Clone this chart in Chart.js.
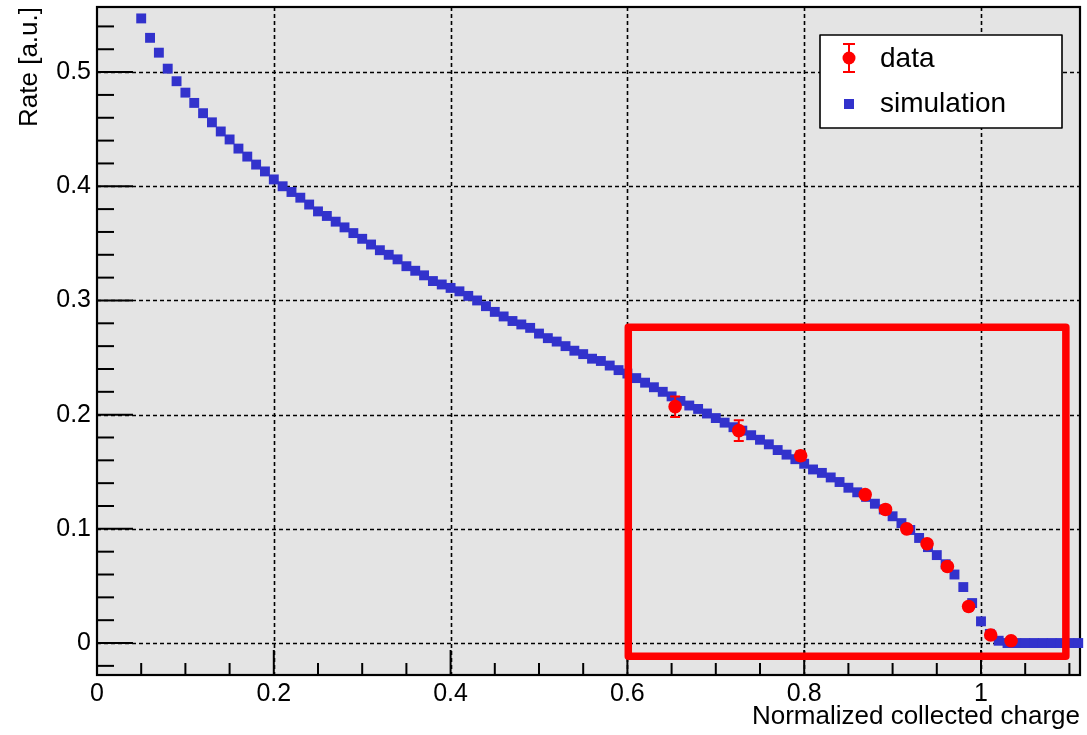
<!DOCTYPE html>
<html>
<head>
<meta charset="utf-8">
<title>Rate vs normalized collected charge</title>
<script src="https://cdn.jsdelivr.net/npm/chart.js@4.4.1/dist/chart.umd.min.js"></script>
<style>
  html, body { margin: 0; padding: 0; background: #ffffff; }
  #wrap { width: 1087px; height: 735px; }
</style>
</head>
<body>
<div id="wrap"><canvas id="c" width="1087" height="735"></canvas></div>
<script>
// Simulated spectrum: bin centres and rate per bin
const simCharge = [
  0.05,0.06,0.07,0.08,0.09,0.10,0.11,0.12,0.13,0.14,
  0.15,0.16,0.17,0.18,0.19,0.20,0.21,0.22,0.23,0.24,
  0.25,0.26,0.27,0.28,0.29,0.30,0.31,0.32,0.33,0.34,
  0.35,0.36,0.37,0.38,0.39,0.40,0.41,0.42,0.43,0.44,
  0.45,0.46,0.47,0.48,0.49,0.50,0.51,0.52,0.53,0.54,
  0.55,0.56,0.57,0.58,0.59,0.60,0.61,0.62,0.63,0.64,
  0.65,0.66,0.67,0.68,0.69,0.70,0.71,0.72,0.73,0.74,
  0.75,0.76,0.77,0.78,0.79,0.80,0.81,0.82,0.83,0.84,
  0.85,0.86,0.87,0.88,0.89,0.90,0.91,0.92,0.93,0.94,
  0.95,0.96,0.97,0.98,0.99,1.00,1.01,1.02,1.03,1.04,
  1.05,1.06,1.07,1.08,1.09,1.10,1.11
];
const simRate = [
  0.547,0.530,0.517,0.503,0.492,0.482,0.473,0.464,0.456,0.448,
  0.441,0.433,0.426,0.419,0.413,0.406,0.400,0.395,0.390,0.384,
  0.378,0.374,0.369,0.364,0.359,0.354,0.349,0.344,0.340,0.336,
  0.330,0.326,0.322,0.317,0.314,0.311,0.308,0.304,0.300,0.295,
  0.290,0.286,0.282,0.279,0.276,0.271,0.267,0.264,0.260,0.256,
  0.253,0.249,0.247,0.243,0.239,0.236,0.232,0.228,0.224,0.220,
  0.216,0.212,0.208,0.205,0.201,0.197,0.193,0.189,0.186,0.182,
  0.178,0.174,0.169,0.165,0.161,0.157,0.152,0.149,0.145,0.141,
  0.136,0.132,0.128,0.122,0.117,0.111,0.105,0.099,0.092,0.084,
  0.077,0.069,0.060,0.049,0.035,0.019,0.008,0.002,0,0,
  0,0,0,0,0,0,0
];

// Measured points with their uncertainties
const dataCharge = [0.654, 0.726, 0.796, 0.869, 0.892, 0.916, 0.939, 0.962, 0.986, 1.011, 1.034];
const dataRate   = [0.207, 0.186, 0.164, 0.130, 0.117, 0.100, 0.087, 0.067, 0.032, 0.007, 0.002];
const dataErr    = [0.009, 0.009, 0.004, 0.003, 0.003, 0.003, 0.003, 0.003, 0.003, 0.002, 0.002];

// Axes
const xTickValues = [0, 0.2, 0.4, 0.6, 0.8, 1];
const xTickLabels = ['0', '0.2', '0.4', '0.6', '0.8', '1'];
const yTickValues = [0, 0.1, 0.2, 0.3, 0.4, 0.5];
const yTickLabels = ['0', '0.1', '0.2', '0.3', '0.4', '0.5'];
const xLimits = [0, 1.112];
const yLimits = [-0.028, 0.557];
const xMinorStep = 0.05;
const yMinorStep = 0.02;

// Region of interest outlined in red (axis units)
const highlightRegion = { xFrom: 0.601, xTo: 1.096, yFrom: -0.0115, yTo: 0.2765 };

const seriesNames = ['data', 'simulation'];

const FONT = '"Liberation Sans", Arial, Helvetica, sans-serif';
const RED = '#ff0000';
const BLUE = '#3232cc';

function labelFor(values, labels, v) {
  const i = values.findIndex(t => Math.abs(t - v) < 1e-9);
  return i >= 0 ? labels[i] : '';
}

// Grey frame background, dotted grid, inward ticks and frame border
const framePlugin = {
  id: 'frame',
  beforeDatasetsDraw(chart) {
    const { ctx, chartArea: a } = chart;
    const xs = chart.scales.x, ys = chart.scales.y;
    ctx.save();
    ctx.fillStyle = '#e4e4e4';
    ctx.fillRect(a.left, a.top, a.right - a.left, a.bottom - a.top);

    // dotted grid at major ticks
    ctx.strokeStyle = '#000';
    ctx.lineWidth = 1.6;
    ctx.setLineDash([4, 3]);
    xTickValues.forEach(v => {
      const px = Math.round(xs.getPixelForValue(v)) + 0.5;
      if (px <= a.left + 2 || px >= a.right - 2) return;
      ctx.beginPath(); ctx.moveTo(px, a.top); ctx.lineTo(px, a.bottom); ctx.stroke();
    });
    yTickValues.forEach(v => {
      const py = Math.round(ys.getPixelForValue(v)) + 0.5;
      if (py <= a.top + 2 || py >= a.bottom - 2) return;
      ctx.beginPath(); ctx.moveTo(a.left, py); ctx.lineTo(a.right, py); ctx.stroke();
    });
    ctx.setLineDash([]);

    // inward tick marks
    ctx.lineWidth = 2;
    const xMajorLen = 25, xMinorLen = 12, yMajorLen = 36, yMinorLen = 17;
    for (let i = 0; xLimits[0] + i * xMinorStep <= xLimits[1] + 1e-9; i++) {
      const v = xLimits[0] + i * xMinorStep;
      const major = Math.abs(v / 0.2 - Math.round(v / 0.2)) < 1e-6;
      const px = xs.getPixelForValue(v);
      ctx.beginPath(); ctx.moveTo(px, a.bottom); ctx.lineTo(px, a.bottom - (major ? xMajorLen : xMinorLen)); ctx.stroke();
    }
    const yStart = Math.ceil(yLimits[0] / yMinorStep) * yMinorStep;
    for (let i = 0; yStart + i * yMinorStep <= yLimits[1] + 1e-9; i++) {
      const v = yStart + i * yMinorStep;
      const major = Math.abs(v / 0.1 - Math.round(v / 0.1)) < 1e-6;
      const py = ys.getPixelForValue(v);
      ctx.beginPath(); ctx.moveTo(a.left, py); ctx.lineTo(a.left + (major ? yMajorLen : yMinorLen), py); ctx.stroke();
    }

    // frame
    ctx.lineWidth = 2.2;
    ctx.strokeRect(a.left, a.top, a.right - a.left, a.bottom - a.top);
    ctx.restore();
  }
};

// Vertical error bars with end caps, drawn after the simulation layer
const errorBarPlugin = {
  id: 'errorBars',
  afterDatasetDraw(chart, args) {
    if (args.index !== 1) return;
    const { ctx } = chart;
    const xs = chart.scales.x, ys = chart.scales.y;
    ctx.save();
    ctx.strokeStyle = RED;
    ctx.lineWidth = 2;
    dataCharge.forEach((xv, i) => {
      const px = xs.getPixelForValue(xv);
      const top = ys.getPixelForValue(dataRate[i] + dataErr[i]);
      const bot = ys.getPixelForValue(dataRate[i] - dataErr[i]);
      ctx.beginPath();
      ctx.moveTo(px, top); ctx.lineTo(px, bot);
      ctx.moveTo(px - 5, top); ctx.lineTo(px + 5, top);
      ctx.moveTo(px - 5, bot); ctx.lineTo(px + 5, bot);
      ctx.stroke();
    });
    ctx.restore();
  }
};

// Red outline of the region of interest and the legend box
const overlayPlugin = {
  id: 'overlay',
  afterDraw(chart) {
    const { ctx, chartArea: a } = chart;
    const xs = chart.scales.x, ys = chart.scales.y;
    ctx.save();

    const l = xs.getPixelForValue(highlightRegion.xFrom);
    const r = xs.getPixelForValue(highlightRegion.xTo);
    const t = ys.getPixelForValue(highlightRegion.yTo);
    const b = ys.getPixelForValue(highlightRegion.yFrom);
    ctx.strokeStyle = RED;
    ctx.lineWidth = 7.5;
    ctx.lineJoin = 'round';
    ctx.strokeRect(l, t, r - l, b - t);

    // legend
    const boxW = 242, boxH = 93;
    const bx = a.right - 260, by = a.top + 28;
    ctx.fillStyle = '#ffffff';
    ctx.fillRect(bx, by, boxW, boxH);
    ctx.strokeStyle = '#000';
    ctx.lineWidth = 1.6;
    ctx.strokeRect(bx, by, boxW, boxH);

    const mx = bx + 29;
    const row1 = by + 23, row2 = by + 69;
    // data entry: marker with error bar
    ctx.strokeStyle = RED; ctx.fillStyle = RED; ctx.lineWidth = 2;
    ctx.beginPath();
    ctx.moveTo(mx, row1 - 14); ctx.lineTo(mx, row1 + 14);
    ctx.moveTo(mx - 6, row1 - 14); ctx.lineTo(mx + 6, row1 - 14);
    ctx.moveTo(mx - 6, row1 + 14); ctx.lineTo(mx + 6, row1 + 14);
    ctx.stroke();
    ctx.beginPath(); ctx.arc(mx, row1, 6.5, 0, Math.PI * 2); ctx.fill();
    // simulation entry: square marker
    ctx.fillStyle = BLUE;
    ctx.fillRect(mx - 5, row2 - 5, 10, 10);

    ctx.fillStyle = '#000';
    ctx.font = '28px ' + FONT;
    ctx.textBaseline = 'middle';
    ctx.textAlign = 'left';
    ctx.fillText(seriesNames[0], bx + 60, row1 + 1);
    ctx.fillText(seriesNames[1], bx + 60, row2);
    ctx.restore();
  }
};

const ctx = document.getElementById('c').getContext('2d');
new Chart(ctx, {
  type: 'scatter',
  data: {
    datasets: [
      {
        label: seriesNames[0],
        data: dataCharge.map((x, i) => ({ x, y: dataRate[i] })),
        pointStyle: 'circle',
        pointRadius: 6.8,
        pointBorderWidth: 0,
        backgroundColor: RED,
        borderColor: RED,
        showLine: false,
        order: 0,
        clip: false
      },
      {
        label: seriesNames[1],
        data: simCharge.map((x, i) => ({ x, y: simRate[i] })),
        pointStyle: 'rect',
        pointRadius: 7,
        pointBorderWidth: 0,
        backgroundColor: BLUE,
        borderColor: BLUE,
        showLine: false,
        order: 1,
        clip: false
      }
    ]
  },
  options: {
    responsive: false,
    animation: false,
    devicePixelRatio: 1,
    layout: { padding: { top: 7, right: 4, left: 0, bottom: 0 } },
    plugins: {
      legend: { display: false },
      tooltip: { enabled: false }
    },
    events: [],
    scales: {
      x: {
        type: 'linear',
        position: 'bottom',
        min: xLimits[0],
        max: xLimits[1],
        grid: { display: false, drawTicks: false },
        border: { display: false },
        afterBuildTicks: s => { s.ticks = xTickValues.map(v => ({ value: v })); },
        afterFit: s => { s.height = 60; s.paddingLeft = 0; s.paddingRight = 0; },
        ticks: {
          autoSkip: false,
          maxRotation: 0,
          padding: 4,
          color: '#000',
          font: { family: FONT, size: 25 },
          callback: v => labelFor(xTickValues, xTickLabels, v)
        },
        title: {
          display: true,
          text: 'Normalized collected charge',
          align: 'end',
          color: '#000',
          font: { family: FONT, size: 26 },
          padding: { top: 0, bottom: 3 }
        }
      },
      y: {
        type: 'linear',
        position: 'left',
        min: yLimits[0],
        max: yLimits[1],
        grid: { display: false, drawTicks: false },
        border: { display: false },
        afterBuildTicks: s => { s.ticks = yTickValues.map(v => ({ value: v })); },
        afterFit: s => { s.width = 97; s.paddingTop = 0; s.paddingBottom = 0; },
        ticks: {
          autoSkip: false,
          padding: 6,
          color: '#000',
          font: { family: FONT, size: 25 },
          callback: v => labelFor(yTickValues, yTickLabels, v)
        },
        title: {
          display: true,
          text: 'Rate [a.u.]',
          align: 'end',
          color: '#000',
          font: { family: FONT, size: 26 },
          padding: { top: 14, bottom: 0 }
        }
      }
    }
  },
  plugins: [framePlugin, errorBarPlugin, overlayPlugin]
});
</script>
</body>
</html>
